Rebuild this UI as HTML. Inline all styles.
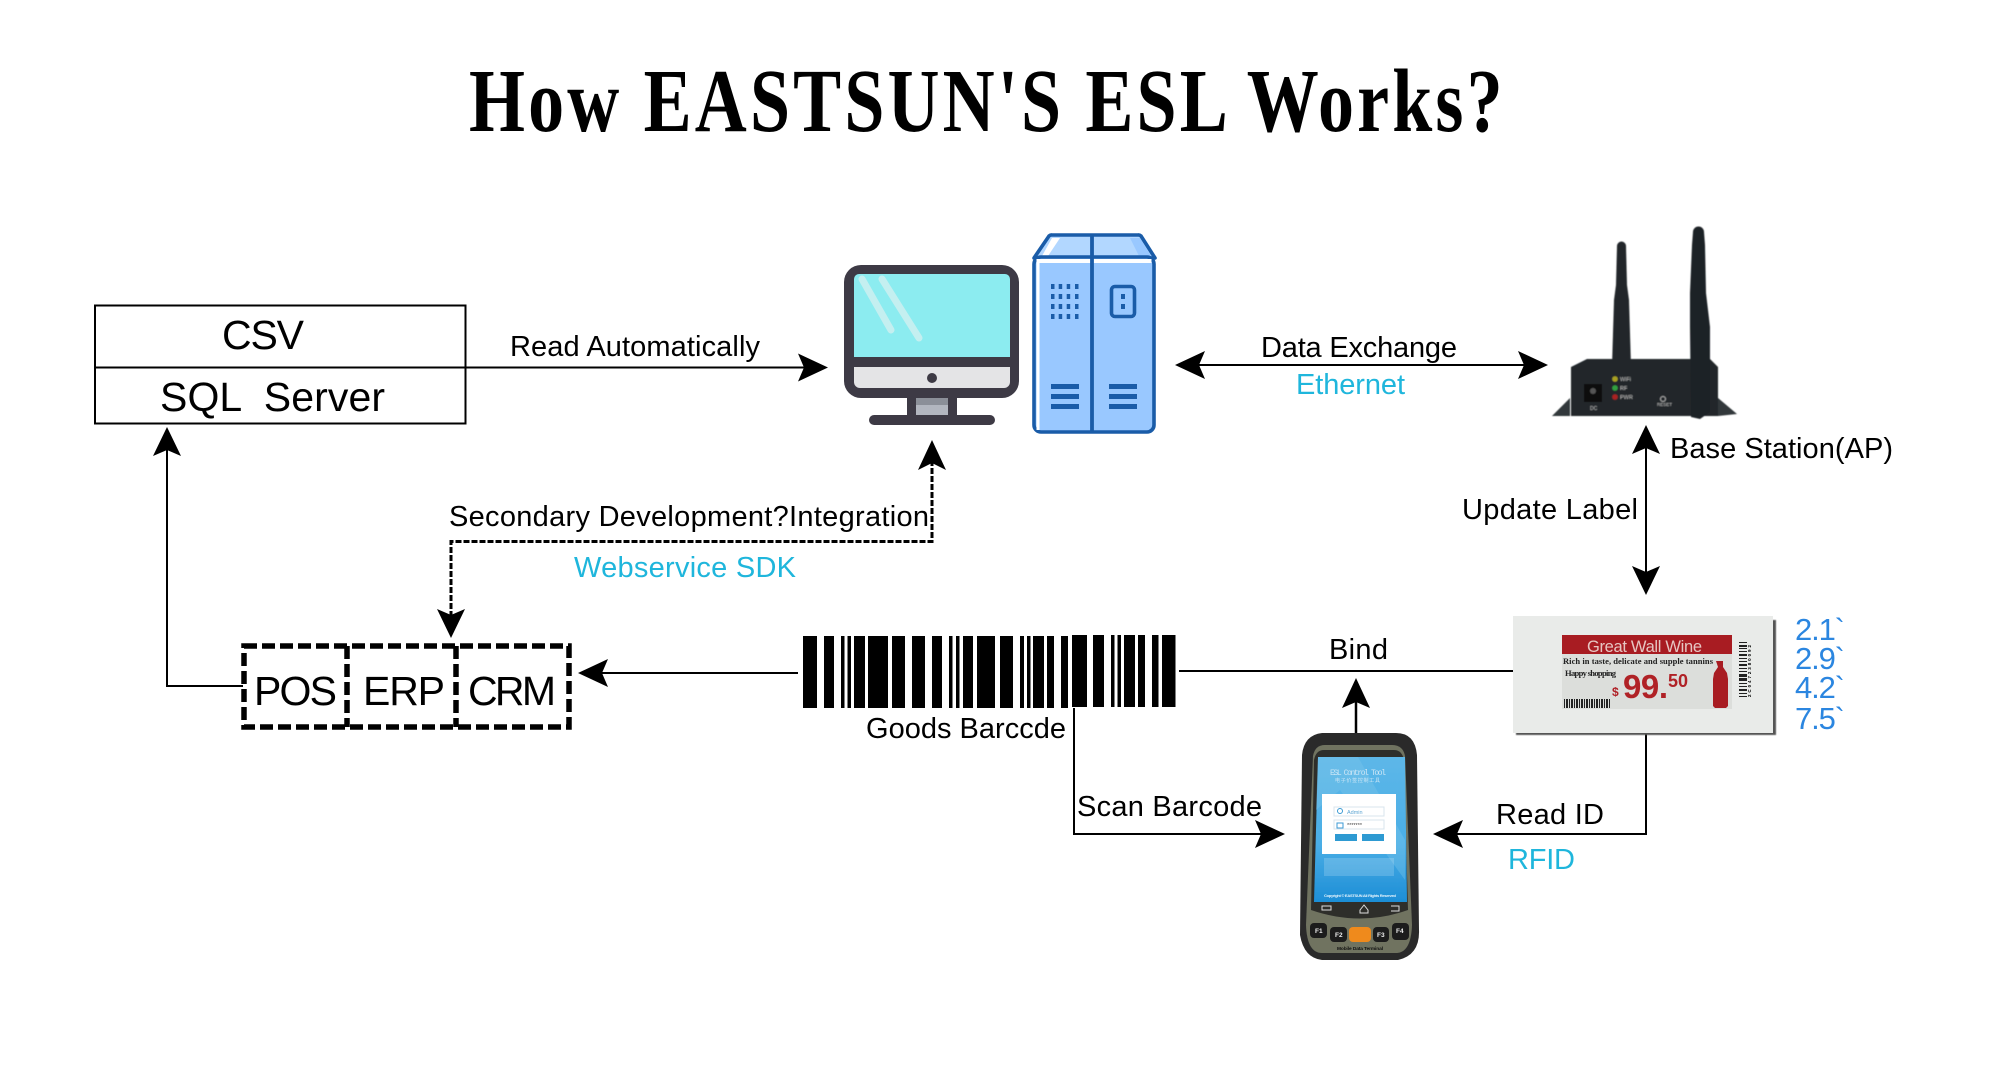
<!DOCTYPE html>
<html><head><meta charset="utf-8">
<style>
html,body{margin:0;padding:0;background:#fff;width:2000px;height:1067px;overflow:hidden}
svg{display:block}
text{font-family:"Liberation Sans",Arial,sans-serif;fill:#000}
.c{fill:#1fb6dc}
</style></head><body>
<svg width="2000" height="1067" viewBox="0 0 2000 1067" xmlns="http://www.w3.org/2000/svg">
<defs>
<linearGradient id="scr" x1="0" y1="0" x2="0" y2="1"><stop offset="0" stop-color="#5db7e8"/><stop offset=".6" stop-color="#4aaee6"/><stop offset="1" stop-color="#1d8ed6"/></linearGradient>
<filter id="b"><feGaussianBlur stdDeviation=".5"/></filter>
<filter id="b2"><feGaussianBlur stdDeviation=".35"/></filter>
</defs>

<text transform="translate(469 131) scale(.8 1)" textLength="1292" style="font-family:'Liberation Serif',serif;font-weight:bold;font-size:90px">How EASTSUN'S ESL Works?</text>

<!-- CSV box -->
<rect x="95" y="305.500" width="370.500" height="118" fill="#fff" stroke="#000" stroke-width="2"/>
<line x1="94" y1="367.500" x2="466" y2="367.500" stroke="#000" stroke-width="2"/>
<text x="222" y="349" font-size="41" textLength="82">CSV</text>
<text x="160" y="411" font-size="41" textLength="225" xml:space="preserve">SQL  Server</text>

<!-- Read Automatically -->
<line x1="466" y1="367.500" x2="808" y2="367.500" stroke="#000" stroke-width="2"/>
<polygon points="828,367.500 798,353.500 804,367.500 798,381.500"/>
<text x="510" y="356" font-size="29" textLength="250">Read Automatically</text>

<!-- Monitor -->
<rect x="844" y="265" width="175" height="133" rx="17" fill="#3d3a45"/>
<path d="M854 357V279a5 5 0 0 1 5-5H1005a5 5 0 0 1 5 5V357Z" fill="#8cecf0"/>
<path d="M854 367H1010V382a6 6 0 0 1-6 6H860a6 6 0 0 1-6-6Z" fill="#e4e4e6"/>
<line x1="862" y1="279" x2="891" y2="330" stroke="#c4eff0" stroke-width="7" stroke-linecap="round"/>
<line x1="882" y1="279" x2="919" y2="338" stroke="#c4eff0" stroke-width="7" stroke-linecap="round"/>
<circle cx="932" cy="378" r="5" fill="#3d3a45"/>
<rect x="907" y="396" width="50" height="22" fill="#3d3a45"/>
<rect x="916" y="398" width="32" height="7" fill="#8b8f98"/>
<rect x="916" y="405" width="32" height="10" fill="#b2b6bf"/>
<rect x="869" y="415" width="126" height="10" rx="5" fill="#3d3a45"/>

<!-- Server -->
<path d="M1034 258 1049 236a4 4 0 0 1 3-1H1138a4 4 0 0 1 3 1L1155 258Z" fill="#b2d7ff" stroke="#1a5ca8" stroke-width="3.600" stroke-linejoin="round"/>
<path d="M1042 256 1052 238H1060L1048 256Z" fill="#fff"/>
<path d="M1130 238H1140L1151 256H1139Z" fill="#99c8ff"/>
<rect x="1034" y="257" width="120" height="175" rx="7" fill="#99c8ff" stroke="#1a5ca8" stroke-width="3.600"/>
<rect x="1036.500" y="259" width="115" height="4" fill="#fff"/>
<rect x="1036.500" y="262" width="3" height="168" fill="#fff"/>
<line x1="1092" y1="235" x2="1092" y2="432" stroke="#1a5ca8" stroke-width="3.800"/>
<g fill="#1a5ca8">
<path d="M1051 284h3.500v5h-3.500zM1058.700 284h3.500v5h-3.500zM1066.700 284h3.500v5h-3.500zM1075 284h3.500v5h-3.500zM1051 294h3.500v5h-3.500zM1058.700 294h3.500v5h-3.500zM1066.700 294h3.500v5h-3.500zM1075 294h3.500v5h-3.500zM1051 304h3.500v5h-3.500zM1058.700 304h3.500v5h-3.500zM1066.700 304h3.500v5h-3.500zM1075 304h3.500v5h-3.500zM1051 314h3.500v5h-3.500zM1058.700 314h3.500v5h-3.500zM1066.700 314h3.500v5h-3.500zM1075 314h3.500v5h-3.500z"/>
<rect x="1051" y="384" width="28" height="5"/><rect x="1051" y="394" width="28" height="5"/><rect x="1051" y="404" width="28" height="5"/>
<rect x="1109" y="384" width="28" height="5"/><rect x="1109" y="394" width="28" height="5"/><rect x="1109" y="404" width="28" height="5"/>
<rect x="1121" y="294" width="4" height="5"/><rect x="1121" y="304" width="4" height="5"/>
</g>
<rect x="1111.500" y="286.500" width="23" height="30" rx="3.500" fill="none" stroke="#1a5ca8" stroke-width="3.600"/>

<!-- Data exchange -->
<line x1="1190" y1="365" x2="1532" y2="365" stroke="#000" stroke-width="2"/>
<polygon points="1175,365 1205,351 1199,365 1205,379"/>
<polygon points="1548,365 1518,351 1524,365 1518,379"/>
<text x="1261" y="357" font-size="29" textLength="196">Data Exchange</text>
<text class="c" x="1296" y="394" font-size="29" textLength="109">Ethernet</text>

<!-- Router -->
<g filter="url(#b)">
<path d="M1612 366 1614 300 1616 285 1617 246a4.500 4.500 0 0 1 9 0L1627 285 1629 300 1631 366Z" fill="#23272a"/>
<path d="M1587 359H1710L1718 367V416H1571V367Z" fill="#24282b"/>
<path d="M1570 398V416H1552ZM1718 398 1737 414 1718 416Z" fill="#33383b"/>
<path d="M1693 232a5.500 5.500 0 0 1 11 0L1705 245 1706 293 1710 327 1710 412 1700 419 1691 417 1690 327 1690 293 1692 245Z" fill="#1e2225"/>
<circle cx="1615" cy="379" r="2.800" fill="#a8a020"/>
<circle cx="1615" cy="388" r="2.800" fill="#30a040"/>
<circle cx="1615" cy="397" r="2.800" fill="#a82020"/>
<rect x="1584" y="384" width="18" height="18" fill="#111"/>
<circle cx="1593" cy="391" r="3" fill="#555"/>
<circle cx="1663" cy="399" r="2.500" fill="none" stroke="#aaa"/>
<text x="1620" y="381" font-size="5.500" style="fill:#bbb">WiFi</text>
<text x="1620" y="390" font-size="5.500" style="fill:#bbb">RF</text>
<text x="1620" y="399" font-size="5.500" style="fill:#bbb">PWR</text>
<text x="1657" y="406" font-size="4.500" style="fill:#bbb">RESET</text>
<text x="1590" y="410" font-size="5" style="fill:#bbb">DC</text>
</g>

<!-- Update label arrow -->
<line x1="1646" y1="438" x2="1646" y2="580" stroke="#000" stroke-width="2"/>
<polygon points="1646,425 1632,454 1646,448 1660,454"/>
<polygon points="1646,595 1632,566 1646,572 1660,566"/>
<text x="1670" y="458" font-size="29" textLength="223">Base Station(AP)</text>
<text x="1462" y="519" font-size="29" textLength="176">Update Label</text>

<!-- Left path -->
<polyline points="243,686 167,686 167,446" fill="none" stroke="#000" stroke-width="2"/>
<polygon points="167,427 153,456 167,450 181,456"/>

<!-- Dashed -->
<polyline points="932,460 932,541.500 451,541.500 451,618" fill="none" stroke="#000" stroke-width="3" stroke-dasharray="6 2"/>
<polygon points="932,440 918,470 932,463 946,470"/>
<polygon points="451,638 437,609 451,615 465,609"/>
<text x="449" y="526" font-size="29" textLength="480">Secondary Development?Integration</text>
<text class="c" x="574" y="577" font-size="29" textLength="222">Webservice SDK</text>

<!-- POS ERP CRM -->
<g fill="none" stroke="#000" stroke-width="5.500" stroke-dasharray="13 5">
<rect x="244" y="646" width="325" height="81"/>
<line x1="347" y1="646" x2="347" y2="727"/>
<line x1="456" y1="646" x2="456" y2="727"/>
</g>
<text x="254" y="705" font-size="41" textLength="83">POS</text>
<text x="363" y="705" font-size="41" textLength="82">ERP</text>
<text x="468" y="705" font-size="41" textLength="88">CRM</text>

<!-- Barcode to POS -->
<line x1="595" y1="673" x2="798" y2="673" stroke="#000" stroke-width="2"/>
<polygon points="578,673 608,659 602,673 608,687"/>

<!-- Barcode -->
<path d="M803 636h14v72h-14zM824 636h10v72h-10zM841 636h3.500v72h-3.500zM847.500 636h3.500v72h-3.500zM854 636h11v72h-11zM868 636h20v72h-20zM892 636h13v72h-13zM912 636h13v72h-13zM932 636h10v72h-10zM949 636h3.500v72h-3.500zM956 636h3.500v72h-3.500zM963 636h10v72h-10zM977 636h18v72h-18zM1000 636h13v72h-13zM1020 636h4v72h-4zM1027 636h3.500v72h-3.500zM1033 636h11v72h-11zM1047 636h7v72h-7zM1061 636h7v72h-7zM1072 635h15v72h-15zM1093 635h11v72h-11zM1111 635h3.500v72h-3.500zM1117.500 635h3.500v72h-3.500zM1124 635h11v72h-11zM1138 635h7v72h-7zM1152 635h6.500v72h-6.500zM1162 635h13.500v72h-13.500z"/>
<text x="866" y="738" font-size="29" textLength="200">Goods Barccde</text>

<!-- Bind -->
<line x1="1179" y1="671" x2="1514" y2="671" stroke="#000" stroke-width="2"/>
<text x="1329" y="659" font-size="29" textLength="59">Bind</text>
<line x1="1356" y1="696" x2="1356" y2="735" stroke="#000" stroke-width="2.500"/>
<polygon points="1356,678 1342,708 1356,702 1370,708"/>

<!-- Scan barcode -->
<polyline points="1074,708 1074,834 1266,834" fill="none" stroke="#000" stroke-width="2"/>
<polygon points="1285,834 1255,820 1261,834 1255,848"/>
<text x="1077" y="816" font-size="29" textLength="185">Scan Barcode</text>

<!-- Read ID -->
<polyline points="1646,734 1646,834 1447,834" fill="none" stroke="#000" stroke-width="2"/>
<polygon points="1433,834 1463,820 1457,834 1463,848"/>
<text x="1496" y="824" font-size="29" textLength="108">Read ID</text>
<text class="c" x="1508" y="869" font-size="29" textLength="67">RFID</text>

<!-- ESL Label -->
<rect x="1516" y="620" width="260" height="115" fill="#555" filter="url(#b)"/>
<g filter="url(#b2)">
<rect x="1513" y="616" width="260" height="117" fill="#e9ebe9"/>
<g transform="translate(-9 0)">
<rect x="1571" y="635" width="170" height="74" fill="#dcdedb"/>
<rect x="1571" y="635" width="170" height="19" fill="#a81c24"/>
<text x="1596" y="652" font-size="16.500" textLength="115" style="fill:#e6c6c2">Great Wall Wine</text>
<text x="1572" y="664" font-size="8.500" textLength="150" style="font-family:'Liberation Serif',serif;font-weight:bold;fill:#222">Rich in taste, delicate and supple tannins</text>
<text x="1574" y="676" font-size="8.500" textLength="51" style="font-family:'Liberation Serif',serif;font-weight:bold;fill:#222">Happy shopping</text>
<text x="1621" y="696" font-size="12" style="fill:#b02028;font-weight:bold">$</text>
<text x="1632" y="698" font-size="33" textLength="45" style="fill:#b02028;font-weight:bold">99.</text>
<text x="1677" y="687" font-size="18" textLength="20" style="fill:#b02028;font-weight:bold">50</text>
<path d="M1725 661h7v6l4 6 1 6v27l-2 2h-11l-2-2v-27l1-6 4-6Z" fill="#a81c24"/>
<g fill="#222"><path d="M1573 699h1v9h-1zM1575 699h2v9h-2zM1578 699h1v9h-1zM1580 699h2v9h-2zM1583 699h1v9h-1zM1585 699h2v9h-2zM1588 699h1v9h-1zM1590 699h2v9h-2zM1593 699h1v9h-1zM1595 699h2v9h-2zM1598 699h1v9h-1zM1600 699h2v9h-2zM1603 699h1v9h-1zM1605 699h2v9h-2zM1608 699h1v9h-1zM1610 699h2v9h-2zM1613 699h1v9h-1zM1615 699h2v9h-2zM1618 699h1v9h-1z"/>
<path d="M1748 642h8v1h-8zM1748 645h8v2h-8zM1748 648h8v1h-8zM1748 651h8v1h-8zM1748 654h8v2h-8zM1748 658h8v1h-8zM1748 661h8v1h-8zM1748 664h8v2h-8zM1748 668h8v1h-8zM1748 671h8v1h-8zM1748 674h8v3h-8zM1748 678h8v3h-8zM1748 683h8v1h-8zM1748 686h8v1h-8zM1748 689h8v2h-8zM1748 693h8v1h-8zM1748 696h8v1h-8z"/></g>
<text font-size="4.500" transform="translate(1760 697) rotate(-90)" textLength="52" style="font-weight:bold">2C0472380092</text>
</g>
</g>

<!-- Sizes -->
<text x="1795" y="640" font-size="31" textLength="50" style="fill:#2b86e0">2.1`</text>
<text x="1795" y="669" font-size="31" textLength="50" style="fill:#2b86e0">2.9`</text>
<text x="1795" y="698" font-size="31" textLength="50" style="fill:#2b86e0">4.2`</text>
<text x="1795" y="729" font-size="31" textLength="50" style="fill:#2b86e0">7.5`</text>

<!-- Phone -->
<g filter="url(#b2)">
<path d="M1322 733H1396Q1415 733 1417 755L1419 930Q1420 955 1398 960H1322Q1304 958 1300 935L1302 755Q1304 735 1322 733Z" fill="#2c2c2c"/>
<path d="M1325 745H1392Q1403 745 1405 756L1412 925Q1411 953 1396 953H1322Q1307 953 1306 925L1313 756Q1315 745 1325 745Z" fill="#6f7360"/>
<path d="M1324 750H1394Q1402 750 1404 760L1408 910Q1360 927 1311 910L1314 760Q1316 750 1324 750Z" fill="#2e2e2c"/>
<path d="M1318 757H1405L1407 902H1314Z" fill="url(#scr)"/>
<path d="M1318 757H1358L1405 840V880L1340 790 1316 810Z" fill="#82c8ec" opacity=".35"/>
<rect x="1322" y="794" width="74" height="60" fill="#fff"/>
<text x="1330" y="775" font-size="8" textLength="56" style="fill:#cce6f6;font-family:'Liberation Mono',monospace">ESL Control Tool</text>
<text x="1335" y="782" font-size="5" textLength="45" style="fill:#cce6f6;font-family:'Noto Sans CJK SC',sans-serif">电子价签控制工具</text>
<rect x="1334" y="807" width="50" height="9" fill="#fff" stroke="#d8e4ee"/>
<rect x="1334" y="820" width="50" height="9" fill="#fff" stroke="#d8e4ee"/>
<text x="1347" y="814" font-size="5.500" style="fill:#5ea6d4">Admin</text>
<text x="1347" y="827" font-size="5.500" style="fill:#444">*******</text>
<circle cx="1340" cy="811" r="2.500" fill="none" stroke="#3a9ad4"/>
<rect x="1337" y="823" width="6" height="5" fill="none" stroke="#3a9ad4"/>
<rect x="1335" y="834" width="22" height="7" fill="#2f9ad2"/>
<rect x="1362" y="834" width="22" height="7" fill="#2f9ad2"/>
<rect x="1324" y="858" width="70" height="18" fill="#fff" opacity=".18"/>
<text x="1324" y="897" font-size="4" textLength="72" style="fill:#e6f4fc;font-weight:bold">Copyright © EASTSUN All Rights Reserved</text>
<rect x="1322" y="906" width="9" height="4" fill="none" stroke="#ddd"/>
<path d="M1360 910l4-5 4 5v3h-8z" fill="none" stroke="#ddd"/>
<path d="M1391 906h8v5h-8" fill="none" stroke="#ddd"/>
<g fill="#1c1c1c">
<rect x="1310" y="923" width="17" height="15" rx="4"/>
<rect x="1330" y="927" width="17" height="15" rx="4"/>
<rect x="1373" y="927" width="16" height="15" rx="4"/>
<rect x="1392" y="923" width="17" height="17" rx="4"/>
</g>
<rect x="1349" y="927" width="22" height="15" rx="4" fill="#ef8a1c"/>
<text x="1315" y="933" font-size="6.500" style="fill:#eee;font-weight:bold">F1</text>
<text x="1335" y="937" font-size="6.500" style="fill:#eee;font-weight:bold">F2</text>
<text x="1377" y="937" font-size="6.500" style="fill:#eee;font-weight:bold">F3</text>
<text x="1396" y="933" font-size="6.500" style="fill:#eee;font-weight:bold">F4</text>
<text x="1337" y="950" font-size="4.800" textLength="46" style="fill:#111;font-weight:bold">Mobile Data Terminal</text>
</g>
</svg>
</body></html>
